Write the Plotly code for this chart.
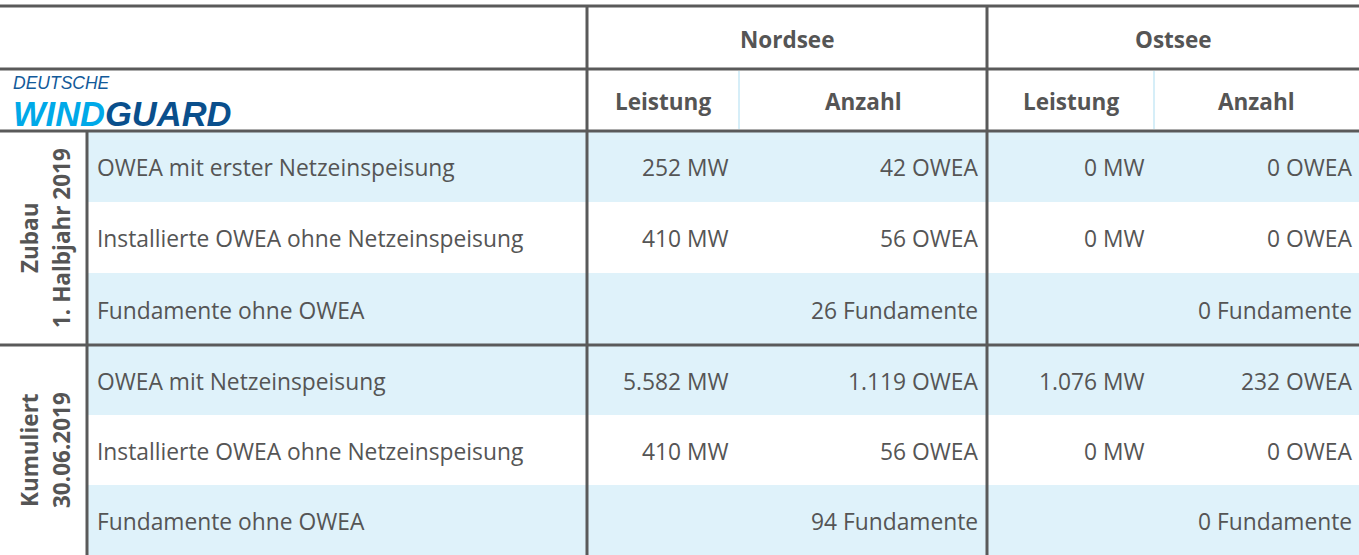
import plotly.graph_objects as go

# ---- data ----
regions = ["Nordsee", "Ostsee"]
sub_headers = ["Leistung", "Anzahl"]
group_labels = [("Zubau", "1. Halbjahr 2019"), ("Kumuliert", "30.06.2019")]
row_labels = [
    "OWEA mit erster Netzeinspeisung",
    "Installierte OWEA ohne Netzeinspeisung",
    "Fundamente ohne OWEA",
    "OWEA mit Netzeinspeisung",
    "Installierte OWEA ohne Netzeinspeisung",
    "Fundamente ohne OWEA",
]
nordsee_leistung = ["252 MW", "410 MW", "", "5.582 MW", "410 MW", ""]
nordsee_anzahl = ["42 OWEA", "56 OWEA", "26 Fundamente", "1.119 OWEA", "56 OWEA", "94 Fundamente"]
ostsee_leistung = ["0 MW", "0 MW", "", "1.076 MW", "0 MW", ""]
ostsee_anzahl = ["0 OWEA", "0 OWEA", "0 Fundamente", "232 OWEA", "0 OWEA", "0 Fundamente"]
row_shaded = [True, False, True, True, False, True]

W, H = 1359, 555
FONT = "Open Sans"
TXT = "#555555"
LINE = "#5a5a5a"
BLUE = "#dff2fa"
FS = 22.8

top = 6
h1 = 69
h2 = 131
row_edges = [131, 202, 273, 345, 415, 485, 555]
x_grp = 87
x_n = 587
x_n_mid = 739
x_o = 987
x_o_mid = 1154

shapes = []
annotations = []

# row backgrounds
for i in range(6):
    if row_shaded[i]:
        shapes.append(dict(type="rect", x0=x_grp, x1=W, y0=row_edges[i], y1=row_edges[i + 1],
                           fillcolor=BLUE, line=dict(width=0), layer="below"))

# thin header separators
for xm in (x_n_mid, x_o_mid):
    shapes.append(dict(type="line", x0=xm, x1=xm, y0=h1 + 2, y1=h2 - 2,
                       line=dict(color="#d6eef8", width=2)))

# thick lines
for y in (top, h1, h2, row_edges[3]):
    shapes.append(dict(type="line", x0=0, x1=W, y0=y, y1=y, line=dict(color=LINE, width=3)))
for x in (x_n, x_o):
    shapes.append(dict(type="line", x0=x, x1=x, y0=top, y1=H, line=dict(color=LINE, width=3)))
shapes.append(dict(type="line", x0=x_grp, x1=x_grp, y0=h2, y1=H, line=dict(color=LINE, width=3)))

def ann(x, y, text, xanchor="center", size=FS, bold=False, color=TXT, textangle=0, family=FONT):
    annotations.append(dict(x=x, y=y, xref="x", yref="y", text=f"<b>{text}</b>" if bold else text,
                            showarrow=False, xanchor=xanchor, yanchor="middle", textangle=textangle,
                            font=dict(family=family, size=size, color=color)))

# headers
ann((x_n + x_o) / 2, 39, regions[0], bold=True, size=22.5)
ann((x_o + W) / 2, 39, regions[1], bold=True, size=22.5)
for (a, b, c) in ((x_n, x_n_mid, x_o), (x_o, x_o_mid, W)):
    ann((a + b) / 2, 101, sub_headers[0], bold=True, size=22.5)
    ann((b + c) / 2, 101, sub_headers[1], bold=True, size=22.5)

# logo
annotations.append(dict(x=11, y=83, xref="x", yref="y", text="<i>DEUTSCHE</i>", showarrow=False,
                        xanchor="left", yanchor="middle",
                        font=dict(family="Liberation Sans", size=17.5, color="#125a9a")))
annotations.append(dict(x=11, y=114, xref="x", yref="y",
                        text="<b><i><span style='color:#00a9e8'>WIND</span><span style='color:#0a4f8c'>GUARD</span></i></b>",
                        showarrow=False, xanchor="left", yanchor="middle",
                        font=dict(family="Liberation Sans", size=34.5, color="#0a4f8c")))

# group labels (rotated)
for g, (l1, l2) in enumerate(group_labels):
    yc = (row_edges[3 * g] + row_edges[3 * g + 3]) / 2
    ann(29, yc, l1, bold=True, textangle=-90, size=22.5)
    ann(61, yc, l2, bold=True, textangle=-90, size=22.5)

# data rows
for i in range(6):
    yc = (row_edges[i] + row_edges[i + 1]) / 2 + 1
    ann(95, yc, row_labels[i], xanchor="left")
    if nordsee_leistung[i]:
        ann(731, yc, nordsee_leistung[i], xanchor="right")
    ann(980, yc, nordsee_anzahl[i], xanchor="right")
    if ostsee_leistung[i]:
        ann(1147, yc, ostsee_leistung[i], xanchor="right")
    ann(1354, yc, ostsee_anzahl[i], xanchor="right")

fig = go.Figure()
fig.update_layout(
    width=W, height=H, margin=dict(l=0, r=0, t=0, b=0),
    paper_bgcolor="white", plot_bgcolor="white",
    xaxis=dict(range=[0, W], visible=False, fixedrange=True),
    yaxis=dict(range=[H, 0], visible=False, fixedrange=True),
    shapes=shapes, annotations=annotations, showlegend=False,
)
fig.write_html("out.html", config={"displayModeBar": False},
               post_script="document.body.style.margin='0';document.body.style.overflow='hidden';")
